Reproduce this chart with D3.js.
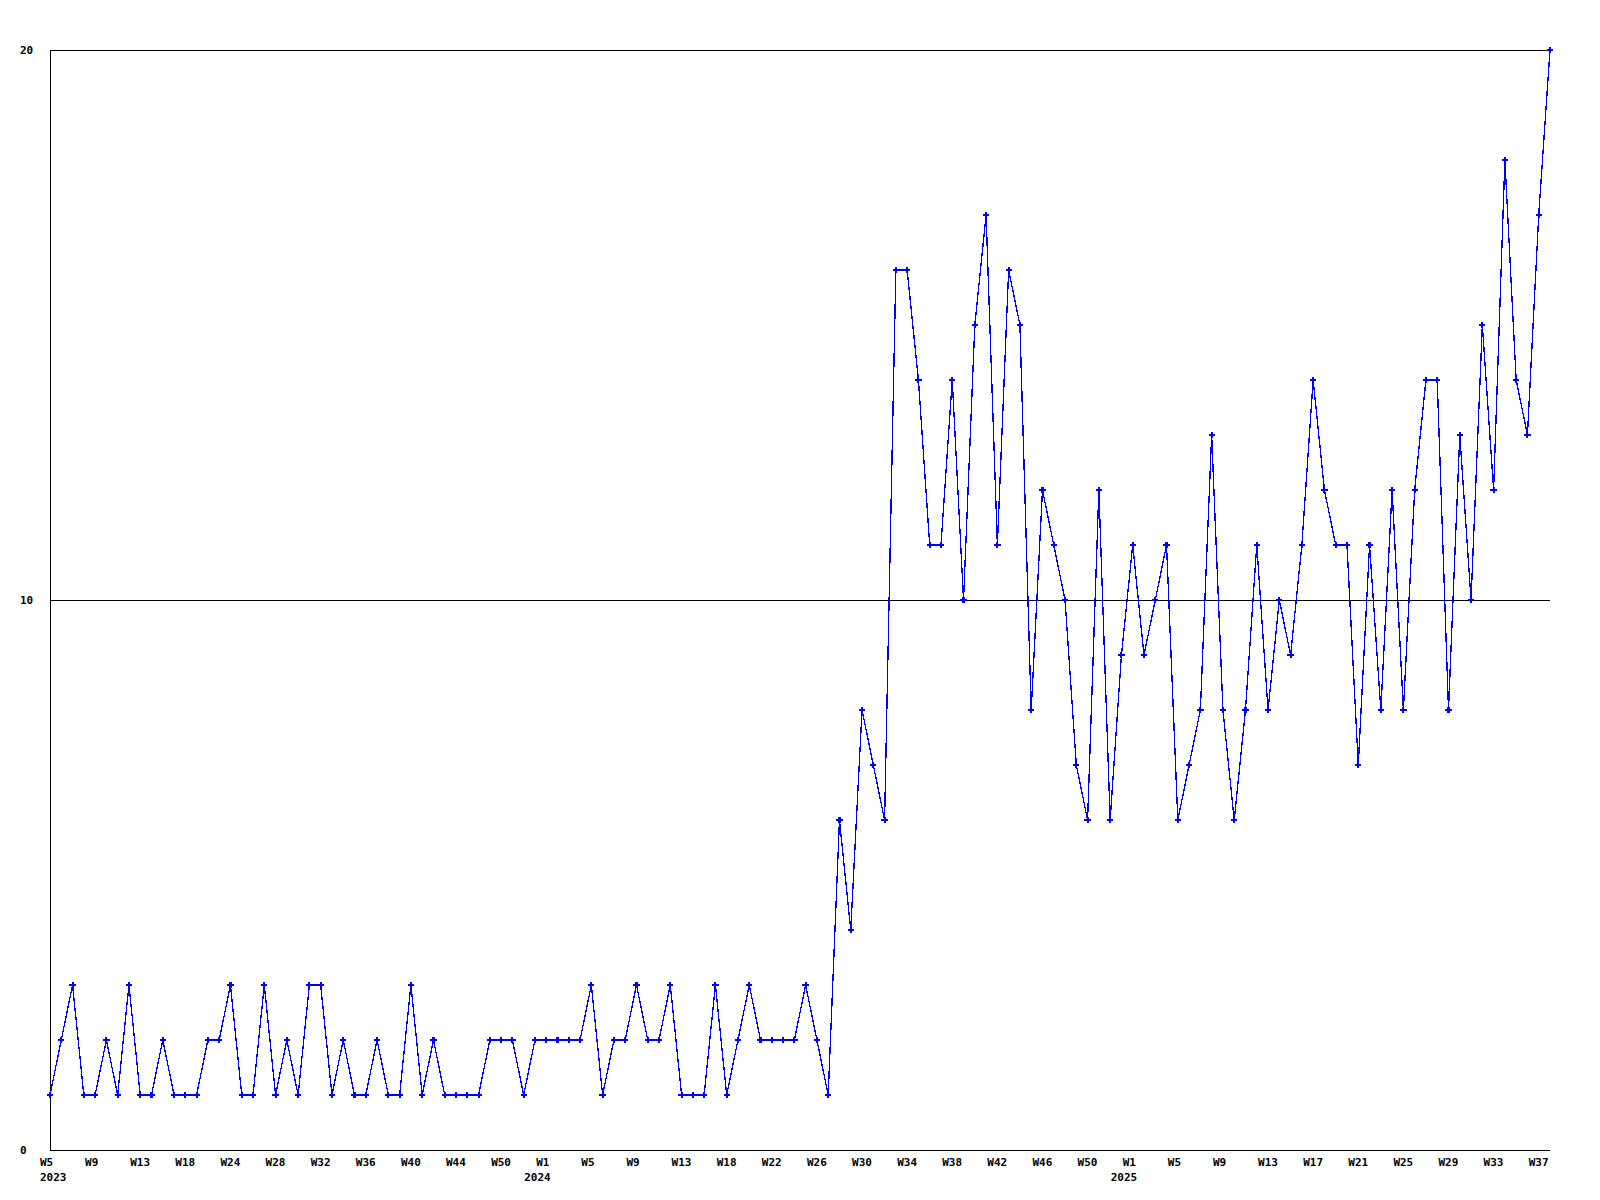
<!DOCTYPE html><html>
<head>
    <meta charset="utf-8">
    <style>
        body { margin: 0; background: #fff; }
        text { font-family: "DejaVu Sans Mono", monospace; font-weight: bold; font-size: 11px; fill: #000; }
    </style>
</head>
<body>
    <script src="https://d3js.org/d3.v7.min.js"></script>
    <script>
        // weekly counts, W5 2023 .. W38 2025
        var values = [1,2,3,1,1,2,1,3,1,1,2,1,1,1,2,2,3,1,1,3,1,2,1,3,3,1,2,1,1,2,1,1,3,
            1,2,1,1,1,1,2,2,2,1,2,2,2,2,2,3,1,2,2,3,2,2,3,1,1,1,3,1,2,3,2,2,2,2,3,2,
            1,6,4,8,7,6,16,16,14,11,11,14,10,15,17,11,16,15,8,12,11,10,7,6,12,6,9,11,9,10,
            11,6,7,8,13,8,6,8,11,8,10,9,11,14,12,11,11,7,11,8,12,8,12,14,14,8,13,10,15,12,
            18,14,13,17,20];

        // one label every 4th point
        var weekTicks = ["W5","W9","W13","W18","W24","W28","W32","W36","W40","W44","W50",
            "W1","W5","W9","W13","W18","W22","W26","W30","W34","W38","W42","W46","W50",
            "W1","W5","W9","W13","W17","W21","W25","W29","W33","W37"];
        var tickStep = 4;

        var yearLabels = ["2023","2024","2025"];
        var yearIndex = [0, 44, 96];

        var yTicks = [0, 10, 20];

        var width = 1600, height = 1200;
        var plotLeft = 50, plotRight = 1550, plotTop = 50, plotBottom = 1150;

        var x = d3.scaleLinear().domain([0, values.length - 1]).range([plotLeft, plotRight]);
        var y = d3.scaleLinear().domain([0, 20]).range([plotBottom, plotTop]);

        var svg = d3.select('body').append('svg')
            .attr('width', width)
            .attr('height', height);

        svg.append('rect').attr('width', width).attr('height', height).attr('fill', '#fff');

        // horizontal grid lines (0, 10, 20)
        svg.selectAll('.grid')
            .data(yTicks)
            .enter().append('line')
            .attr('class', 'grid')
            .attr('x1', plotLeft).attr('x2', plotRight)
            .attr('y1', function(d) { return Math.round(y(d)) + 0.5; })
            .attr('y2', function(d) { return Math.round(y(d)) + 0.5; })
            .attr('stroke', '#000')
            .attr('shape-rendering', 'crispEdges');

        // left axis
        svg.append('line')
            .attr('x1', plotLeft + 0.5).attr('x2', plotLeft + 0.5)
            .attr('y1', plotTop).attr('y2', plotBottom + 1)
            .attr('stroke', '#000')
            .attr('shape-rendering', 'crispEdges');

        svg.selectAll('.ylab')
            .data(yTicks)
            .enter().append('text')
            .attr('class', 'ylab')
            .attr('x', 20)
            .attr('y', function(d) { return y(d) + 4; })
            .text(function(d) { return d; });

        svg.selectAll('.xlab')
            .data(weekTicks)
            .enter().append('text')
            .attr('class', 'xlab')
            .attr('x', function(d, i) { return x(i * tickStep) - 10; })
            .attr('y', 1166)
            .text(function(d) { return d; });

        svg.selectAll('.year')
            .data(yearLabels)
            .enter().append('text')
            .attr('class', 'year')
            .attr('x', function(d, i) { return Math.max(plotLeft - 10, x(yearIndex[i]) - 22); })
            .attr('y', 1181)
            .text(function(d) { return d; });

        var line = d3.line()
            .x(function(d, i) { return x(i); })
            .y(function(d) { return y(d); });

        svg.append('path')
            .datum(values)
            .attr('d', line)
            .attr('fill', 'none')
            .attr('stroke', '#0000ff')
            .attr('stroke-width', 1.3)
            .attr('shape-rendering', 'crispEdges');

        svg.selectAll('.pt')
            .data(values)
            .enter().append('path')
            .attr('class', 'pt')
            .attr('transform', function(d, i) { return 'translate(' + x(i) + ',' + y(d) + ')'; })
            .attr('d', d3.symbol(d3.symbolCross).size(22))
            .attr('fill', '#0000ff')
            .attr('shape-rendering', 'crispEdges');
    </script>
</body></html>
